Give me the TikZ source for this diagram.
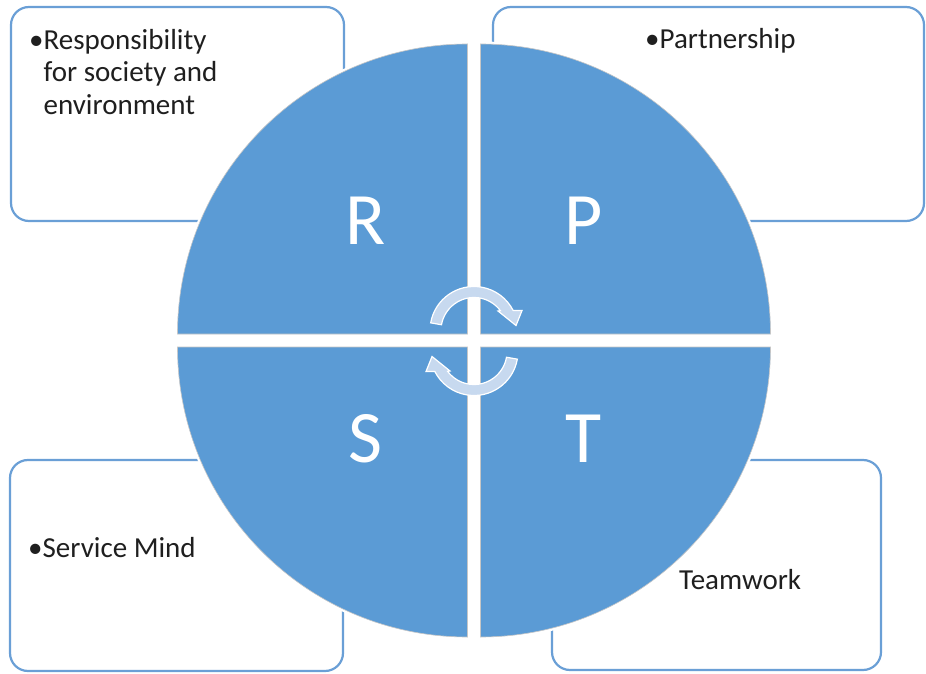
\documentclass[tikz,border=0pt]{standalone}
\usepackage{fontspec}
\setmainfont{Carlito}
\usepackage{tikz}
\tikzstyle{card} = [draw=bb, line width=2.2pt, rounded corners=18pt, fill=white]
\tikzstyle{quad} = [fill=qb, draw=gray!45, line width=0.6pt, preaction={draw=white, line width=5pt}]
\tikzstyle{turn} = [fill=ab, draw=white, line width=1.2pt]
\tikzstyle{txt} = [anchor=base west, inner sep=0pt, text=black!88, font=\fontsize{29}{32.5}\selectfont]
\tikzstyle{big} = [anchor=base, inner sep=0pt, text=white, font=\fontsize{74}{80}\selectfont]
\definecolor{qb}{HTML}{5B9BD5}
\definecolor{bb}{HTML}{6A9FD6}
\definecolor{ab}{HTML}{C7D9EF}

\begin{document}
\begin{tikzpicture}[x=1pt,y=1pt]
			\useasboundingbox (0,0) rectangle (926,673);
			\draw[card] (11,452) rectangle (344,666);
			\draw[card] (493,452) rectangle (924,666);
			\draw[card] (10,2) rectangle (343,213);
			\draw[card] (552,3) rectangle (881,213);
			\node[txt, align=left, anchor=north west] (resp) at (29,644) {•Responsibility\\\phantom{•}for society and\\\phantom{•}environment};
			\node[txt] (part) at (645,624) {•Partnership};
			\node[txt] (serv) at (28,116) {•Service Mind};
			\node[txt] (team) at (679,84) {Teamwork};
			\coordinate (ctr) at (474,332.5);
			\foreach \a/\sx/\sy in {0/1/1, 90/-1/1, 180/-1/-1, 270/1/-1}
				\draw[quad] ([shift={(\sx*6.5,\sy*6.5)}]ctr) -- ++(\a:290) arc[start angle=\a, end angle=\a+90, radius=290] -- cycle;
			\foreach \r/\dy in {0/10, 180/-11}
				\draw[turn, shift={(474,332.5+\dy)}, rotate=\r] (170:44) arc[start angle=170, end angle=27, radius=44] -- (48,20) -- (42,5) -- (24,19.5) -- (37:33) arc[start angle=37, end angle=170, radius=33] -- cycle;
			\node[big] (r) at (366,428) {R};
			\node[big] (p) at (584,428) {P};
			\node[big] (s) at (365,211) {S};
			\node[big] (t) at (584,211) {T};
		\end{tikzpicture}
\end{document}
